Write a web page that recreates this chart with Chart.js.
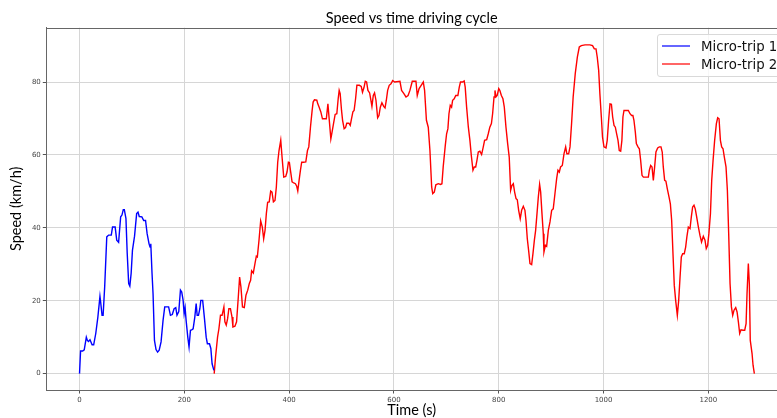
<!DOCTYPE html>
<html>
<head>
<meta charset="utf-8">
<script src="https://cdn.jsdelivr.net/npm/chart.js@4.4.1/dist/chart.umd.min.js"></script>
<style>
  html, body { margin: 0; padding: 0; background: #fff; overflow: hidden; }
  #wrap { position: relative; width: 777px; height: 418px; }
  #legend {
    position: absolute; left: 657px; top: 34px; width: 150px; height: 43px;
    box-sizing: border-box; border: 1px solid #d9d9d9; border-radius: 3px;
    background: rgba(255,255,255,0.8); padding-top: 2px;
    font-family: "DejaVu Sans", sans-serif; font-size: 13.3px; color: #111;
  }
  #legend .row { height: 18px; display: flex; align-items: center; white-space: nowrap; }
  #legend .sw { display: block; width: 28px; height: 2px; opacity: 0.6; margin-left: 4px; margin-right: 11px; }
</style>
</head>
<body>
<div id="wrap">
  <canvas id="chart" width="777" height="418"></canvas>
  <div id="legend"></div>
</div>
<script>
// Micro-trip 1 (blue): time in s, speed in km/h
const trip1Time = [
  0, 2, 6, 9, 13, 15, 17, 20, 24, 27,
  31, 35, 39, 40, 43, 45, 48, 52, 55.5, 60.6,
  63, 68, 71, 74.6, 76.5, 78.5, 81, 83.5, 85.5, 88.6,
  91, 93.8, 96, 98.5, 101, 105, 109, 111.6, 114, 119,
  122.5, 126, 129, 132.7, 134.6, 136, 138.4, 140.3, 143, 146,
  149, 152, 155.6, 159.4, 162.6, 166.5, 170, 173.5, 177, 180.5,
  183.7, 186, 189.4, 192.6, 195, 197.7, 199.6, 201.5, 203.4, 206.6,
  209, 211.7, 214, 216.8, 220, 222.6, 224.5, 227, 229.6, 231.5,
  235, 238.5, 241.7, 244, 248, 250.6, 253, 256.4
];
const trip1Speed = [
  0, 6.2, 6.2, 6.5, 10, 9.1, 8.8, 9.3, 7.9, 7.9,
  11, 15.5, 21.2, 20, 16, 16, 23.8, 37.5, 38, 38,
  40.2, 40.2, 36.6, 36, 39.5, 43, 43.5, 45, 45, 42.5,
  33, 24.7, 24, 27.5, 33.8, 37.7, 43.9, 44.3, 43.1, 43,
  42, 42, 38.4, 35.6, 34.7, 35.6, 27.4, 22, 9.1, 6.6,
  5.9, 6.4, 8.7, 14.6, 18.3, 18.3, 18.3, 16, 16.2, 17.8,
  18.1, 16, 17, 22.9, 22.4, 20.1, 16.5, 18.1, 14.6, 10,
  7.3, 11.9, 12, 12.3, 15.5, 19.2, 16, 16, 17.8, 20.1,
  20.1, 15, 10, 8.2, 8.2, 6.9, 2.7, 0.9
];

// Micro-trip 2 (red): time in s, speed in km/h
const trip2Time = [
  257, 259.6, 263.4, 266, 269, 272, 275.5, 277.4, 280, 282.5,
  285, 288, 291, 292.7, 296.6, 299.7, 303, 305.5, 308, 311,
  314.4, 317.6, 321, 324, 326.5, 328.4, 331.6, 334.8, 337.4, 339.3,
  342.5, 345.7, 348.8, 351.4, 354, 356.5, 359, 362, 364.8, 367.3,
  370, 373, 375.6, 378.2, 380.7, 384, 386.5, 389.7, 393.5, 396,
  398.6, 400.5, 403, 405.6, 408.8, 412, 414.5, 416.5, 419, 421.6,
  424, 427.3, 431.8, 435, 437.5, 440.7, 443.9, 445.8, 448.3, 452.8,
  454.7, 457.3, 460.5, 463.6, 468.7, 471, 474, 476.4, 479.6, 482,
  484.7, 487.8, 491, 493.6, 495.5, 497.4, 500, 502, 505, 507.6,
  510, 514, 516.6, 519, 521.7, 524, 526.8, 529.3, 534, 537.6,
  540, 542.7, 545.3, 547.8, 550.4, 553.6, 556, 558, 560.6, 563,
  565.7, 568.9, 571.4, 574, 577, 580.4, 583, 585.5, 588, 591,
  594.4, 597.6, 601.4, 611.5, 614.6, 619, 623, 627, 630.5, 635,
  642, 644.5, 648, 652, 656, 658.5, 662, 665.5, 668.7, 672,
  674, 677, 680, 684.6, 689, 691.6, 694, 698, 700.5, 703,
  705, 707.5, 710, 712, 715, 718, 722, 724.7, 727, 731,
  734, 736, 738.7, 742, 745, 747.6, 750.8, 753.3, 756, 758.4,
  761, 764, 767.3, 770.5, 773, 777, 780, 783, 786, 788.3,
  791, 792.8, 794.7, 797, 800, 802, 805, 808, 810.6, 813.8,
  817, 820, 822.7, 825, 827.8, 830.3, 833, 835.4, 838, 841,
  843.7, 846.9, 850, 852, 854.5, 857, 859.6, 862.8, 865.3, 868,
  870.4, 873, 875.5, 878, 880, 882.5, 885, 886.3, 889, 891.4,
  894.6, 897.8, 901, 904, 907.3, 910.5, 913, 915.6, 918, 921.3,
  924.5, 927.7, 930, 933.4, 936, 939, 942, 946, 950, 953.7,
  957.6, 964.6, 974, 979, 982.4, 985.6, 988, 990.7, 993, 995.8,
  998, 1000.8, 1004.7, 1007, 1009.7, 1012.3, 1015, 1017.4, 1020, 1022.5,
  1025, 1027.6, 1030, 1032.7, 1035, 1037, 1039, 1042.8, 1047.3, 1050.5,
  1053.6, 1056, 1058, 1060.6, 1062.6, 1065.7, 1068.3, 1070.8, 1073.4, 1076,
  1082, 1085.5, 1087.4, 1090, 1092.5, 1095, 1097.5, 1100, 1103.3, 1106.5,
  1109.6, 1112, 1114, 1116.6, 1119, 1121.7, 1125, 1127.5, 1130, 1132.5,
  1135, 1137.6, 1140.8, 1143.4, 1146, 1148.4, 1151, 1154, 1156.7, 1159,
  1161.8, 1165, 1167.5, 1170, 1172.6, 1175, 1177.7, 1181, 1184, 1187,
  1190.4, 1193.6, 1196, 1198.7, 1201, 1204, 1206.4, 1209, 1212, 1215.3,
  1217.8, 1220.4, 1223, 1225.4, 1228, 1230.5, 1233.7, 1236.3, 1238.8, 1241.4,
  1244, 1246.5, 1249, 1252.2, 1254.8, 1257.3, 1259.8, 1262.3, 1266.2, 1269.4,
  1272, 1273.8, 1276.3, 1278.2, 1280, 1283.4, 1285.3, 1287.8
];
const trip2Speed = [
  0, 4.6, 10, 12.3, 16, 16, 18.3, 14.2, 13.3, 15,
  17.8, 17.8, 15.5, 12.8, 13, 14.2, 21, 26.5, 23.8, 18.3,
  18.1, 21.5, 22.9, 24.7, 25.6, 28.2, 27.6, 30.2, 32.2, 32,
  36.6, 41.9, 40.2, 37, 39.3, 43.9, 47, 47.1, 50.1, 49.8,
  47.1, 47.5, 51.2, 58, 61.2, 64, 59.4, 53.9, 54.1, 55.3,
  58, 57.9, 55.3, 52.6, 52.3, 52.1, 51.4, 50.1, 53, 55.8,
  58, 58, 58.1, 61.2, 62.2, 67.6, 72.2, 74.5, 75.1, 75,
  74, 73.1, 71.8, 69.9, 69.9, 69.9, 74, 69.9, 64.4, 66.3,
  68.6, 71.1, 71.3, 75.4, 77.7, 76.8, 72.2, 69.5, 67.2, 67.5,
  68.7, 68.7, 68.1, 69.9, 71.8, 72.2, 75.4, 79.1, 79.1, 78.8,
  77.2, 78.4, 80.2, 80, 77.7, 77, 75, 73.3, 76.3, 77,
  75, 70.2, 70.8, 73.1, 74.3, 73.3, 72.9, 75, 77.7, 79.1,
  79.5, 80.4, 80, 80.2, 77.7, 76.8, 75.9, 76.3, 77.7, 80.2,
  80.2, 76.3, 78.2, 79.1, 80, 77.7, 69.5, 67.6, 61.2, 51.2,
  49.4, 49.8, 51.8, 52.1, 51.9, 52.1, 56.7, 62.6, 65.8, 67.2,
  71.3, 73.6, 73.1, 75, 75.4, 76.3, 76.3, 78.6, 80, 80,
  80.3, 78.6, 73.1, 67.6, 64, 59.9, 55.8, 56.7, 56.7, 58.5,
  60.8, 61, 60.1, 62.2, 64, 64.2, 65.8, 67.6, 68.6, 71.3,
  75.9, 77.7, 75.9, 76.3, 78.2, 77.7, 76.3, 75.4, 73.1, 67.6,
  63.1, 59.4, 50.3, 51.6, 52.1, 49.8, 48, 47.7, 44.8, 42.5,
  44.8, 45.9, 44.8, 42, 37, 33.8, 30.2, 29.9, 32.9, 36.6,
  39.3, 43.9, 48.4, 51.9, 49.8, 43.9, 38.4, 33.4, 35.2, 34.9,
  39.3, 41.6, 44.8, 45.2, 49.4, 53.5, 55.8, 55.3, 56.7, 57.1,
  60.3, 62.2, 60.3, 60.3, 62.2, 68.6, 75.9, 82.3, 86.8, 89.6,
  90, 90.2, 90.2, 90, 89.1, 89.1, 86.8, 83.2, 76.8, 70.4,
  64.9, 62.2, 61.9, 64, 69.5, 74, 73.9, 70.4, 68.1, 67.6,
  65.8, 64, 61.2, 61, 64, 70.4, 72.2, 72.2, 72.2, 71.3,
  70.8, 70.8, 69.5, 66.3, 63.1, 62.2, 61.7, 58.5, 54.4, 53.9,
  53.9, 53.9, 55.8, 57.1, 56.7, 53, 56.7, 60.8, 61.9, 62.2,
  62.2, 60.8, 56.7, 53, 52.8, 50.7, 48.4, 46.6, 42, 32.9,
  24.2, 20.1, 16, 20.1, 26.5, 32, 32.9, 32.9, 34.7, 37.5,
  40.2, 39.8, 43, 45.7, 46.2, 45.2, 43, 40.2, 37.9, 36.1,
  37.7, 36.6, 34.3, 35.2, 38.4, 43.9, 53, 58.5, 64, 68.6,
  70.2, 69.9, 64, 62.2, 61.7, 59.4, 56.7, 50.3, 38.4, 24.7,
  18.3, 16, 17.4, 18.1, 16.9, 14.2, 11, 12, 11.9, 11.9,
  13.7, 21.9, 30.2, 24.7, 9.1, 5.5, 2.3, 0
];

const seriesLabels = ['Micro-trip 1', 'Micro-trip 2'];
const seriesColors = ['#0000ff', '#ff0000'];
const xTickValues = [0, 200, 400, 600, 800, 1000, 1200];
const yTickValues = [0, 20, 40, 60, 80];

const toPoints = (ts, vs) => ts.map((t, i) => ({ x: t, y: vs[i] }));

// top frame line of the plot box
const frameTop = {
  id: 'frameTop',
  afterDraw(chart) {
    const { ctx, chartArea: a } = chart;
    ctx.save();
    ctx.strokeStyle = '#666';
    ctx.lineWidth = 1;
    ctx.beginPath();
    ctx.moveTo(a.left, Math.round(a.top) + 0.5);
    ctx.lineTo(a.right, Math.round(a.top) + 0.5);
    ctx.stroke();
    ctx.restore();
  }
};

const tickFont = { family: 'DejaVu Sans', size: 7 };
const labelFont = { family: 'Lato', size: 14.5, lineHeight: 1 };

const chart = new Chart(document.getElementById('chart'), {
  type: 'line',
  data: {
    datasets: [
      { label: seriesLabels[0], data: toPoints(trip1Time, trip1Speed), borderColor: seriesColors[0] },
      { label: seriesLabels[1], data: toPoints(trip2Time, trip2Speed), borderColor: seriesColors[1] }
    ]
  },
  options: {
    responsive: false,
    animation: false,
    devicePixelRatio: 1,
    layout: { padding: 0 },
    elements: {
      line: { borderWidth: 1.4, tension: 0, fill: false },
      point: { radius: 0, hoverRadius: 0 }
    },
    plugins: {
      legend: { display: false },
      tooltip: { enabled: false },
      title: {
        display: true,
        text: 'Speed vs time driving cycle',
        fullSize: false,
        color: '#000',
        font: { family: 'Lato', size: 14.5, weight: 'normal', lineHeight: 1 },
        padding: { top: 11.5, bottom: 1.7 }
      }
    },
    scales: {
      x: {
        type: 'linear',
        min: -63.4,
        max: 1331,
        afterFit(scale) { scale.height = 28; },
        afterBuildTicks(scale) { scale.ticks = xTickValues.map(v => ({ value: v })); },
        ticks: { font: tickFont, color: '#444', padding: 2, maxRotation: 0, callback: v => String(v) },
        grid: { color: '#d6d6d6', lineWidth: 1, tickLength: 3.5, tickColor: '#555' },
        border: { display: true, color: '#666', width: 1 },
        title: { display: true, text: 'Time (s)', color: '#000', font: labelFont, padding: { top: 0, bottom: 0 } }
      },
      y: {
        type: 'linear',
        min: -4.5,
        max: 94.9,
        afterFit(scale) { scale.width = 46.3; },
        afterBuildTicks(scale) { scale.ticks = yTickValues.map(v => ({ value: v })); },
        ticks: { font: tickFont, color: '#444', padding: 2, callback: v => String(v) },
        grid: { color: '#d6d6d6', lineWidth: 1, tickLength: 3.5, tickColor: '#555' },
        border: { display: true, color: '#666', width: 1 },
        title: { display: true, text: 'Speed (km/h)', color: '#000', font: labelFont, padding: { top: 9.5, bottom: 0 } }
      }
    }
  },
  plugins: [frameTop]
});

// legend box built from the chart's own datasets
const legendEl = document.getElementById('legend');
chart.data.datasets.forEach((ds, i) => {
  const row = document.createElement('div');
  row.className = 'row';
  const sw = document.createElement('span');
  sw.className = 'sw';
  sw.style.background = seriesColors[i];
  const txt = document.createElement('span');
  txt.textContent = ds.label;
  row.appendChild(sw);
  row.appendChild(txt);
  legendEl.appendChild(row);
});
</script>
</body>
</html>
